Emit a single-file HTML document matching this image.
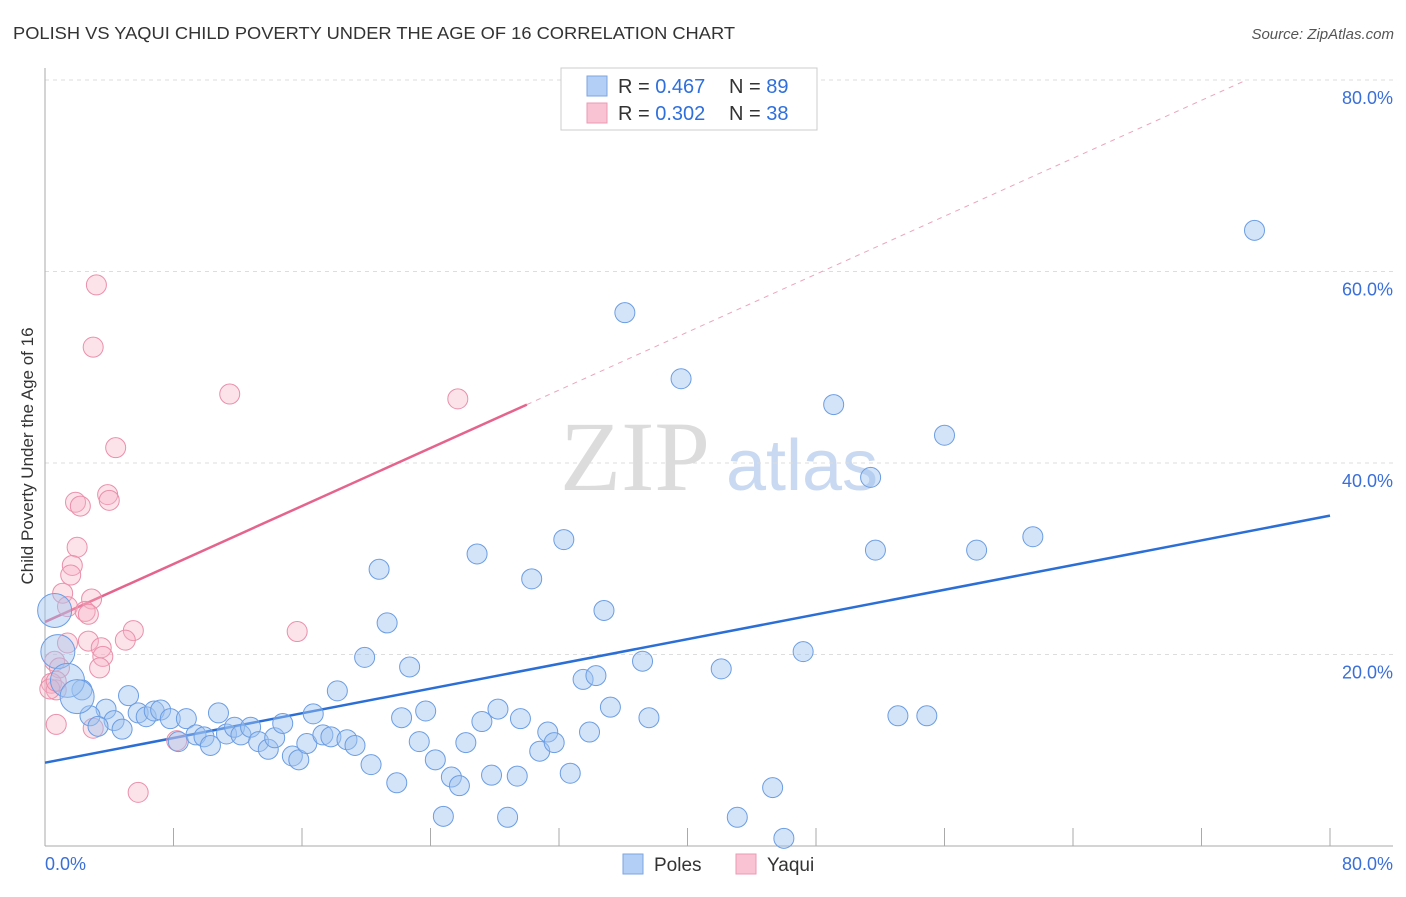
<!DOCTYPE html>
<html><head><meta charset="utf-8"><style>
body{margin:0;background:#fff;font-family:"Liberation Sans",sans-serif;}
</style></head><body>
<svg id="chart" width="1406" height="892" xmlns="http://www.w3.org/2000/svg" font-family="Liberation Sans, sans-serif">
<text x="13" y="39" font-size="17.5" fill="#333" textLength="722" lengthAdjust="spacingAndGlyphs">POLISH VS YAQUI CHILD POVERTY UNDER THE AGE OF 16 CORRELATION CHART</text>
<text x="1394" y="39" font-size="15" fill="#555" text-anchor="end" font-style="italic">Source: ZipAtlas.com</text>
<text transform="translate(33,456) rotate(-90)" font-size="17" fill="#333" text-anchor="middle">Child Poverty Under the Age of 16</text>
<g><text x="635" y="490" font-size="100" fill="#dcdcdc" style="font-family:'Liberation Serif',serif" text-anchor="middle">ZIP</text><text x="802" y="490" font-size="72" fill="#c9d9f1" text-anchor="middle">atlas</text></g>
<g id="grid"></g><g id="axes"></g><g id="lines"></g><g id="pts"></g>
<g>
<rect x="561" y="68" width="256" height="62" fill="#fff" stroke="#ccc"/>
<rect x="587" y="76" width="20" height="20" fill="#b3cff5" stroke="#7ea6e0"/>
<text x="618" y="93" font-size="20" fill="#333">R = <tspan fill="#2f6fdc">0.467</tspan></text>
<text x="729" y="93" font-size="20" fill="#333">N = <tspan fill="#2f6fdc">89</tspan></text>
<rect x="587" y="103" width="20" height="20" fill="#f9c3d3" stroke="#eb99b3"/>
<text x="618" y="120" font-size="20" fill="#333">R = <tspan fill="#2f6fdc">0.302</tspan></text>
<text x="729" y="120" font-size="20" fill="#333">N = <tspan fill="#2f6fdc">38</tspan></text>
</g>
<g>
<rect x="623" y="854" width="20" height="20" fill="#b3cff5" stroke="#7ea6e0"/>
<text x="654" y="871" font-size="19" fill="#333">Poles</text>
<rect x="736" y="854" width="20" height="20" fill="#f9c3d3" stroke="#eb99b3"/>
<text x="767" y="871" font-size="19" fill="#333">Yaqui</text>
</g>
</svg>
<script>
const yTicks=[20,40,60,80];
const xTickVals=[0,8,16,24,32,40,48,56,64,72,80];
const polesX=[75.3,36.1,39.6,49.1,56.0,51.4,32.3,26.9,51.7,58.0,61.5,20.8,30.3,21.3,34.8,19.9,37.2,47.2,22.7,42.1,33.5,34.3,18.2,5.2,2.3,3.8,2.8,4.3,3.3,4.8,5.8,6.3,6.8,7.2,7.8,8.8,10.8,8.3,9.4,9.9,10.3,11.3,11.8,12.2,12.8,13.3,13.9,14.3,14.8,15.4,15.8,16.3,16.7,17.3,17.8,18.8,19.3,20.3,21.9,22.2,23.3,23.7,24.3,24.8,25.3,25.8,26.2,27.2,27.8,28.2,28.8,29.4,29.6,30.8,31.3,31.7,32.7,33.9,35.2,37.6,43.1,45.3,46.0,53.1,54.9];
const polesY=[64.3,55.7,48.8,46.1,42.9,38.5,32.0,30.5,30.9,30.9,32.3,28.9,27.9,23.3,24.6,19.7,19.3,20.3,18.7,18.5,17.4,17.8,16.2,15.7,16.3,14.3,13.6,13.1,12.5,12.2,13.9,13.5,14.1,14.2,13.3,13.3,13.9,10.9,11.6,11.4,10.5,11.7,12.4,11.6,12.4,10.9,10.1,11.3,12.8,9.4,9.0,10.7,13.8,11.6,11.4,11.1,10.5,8.5,6.6,13.4,10.9,14.1,9.0,3.1,7.2,6.3,10.8,13.0,7.4,14.3,3.0,7.3,13.3,9.9,11.9,10.8,7.6,11.9,14.5,13.4,3.0,6.1,0.8,13.6,13.6];
const polesBigX=[0.6,0.8,1.4,2.0];
const polesBigY=[24.6,20.3,17.3,15.6];
const yaquiX=[3.2,3.0,11.5,25.7,4.4,1.9,2.2,3.9,4.0,2.0,1.7,1.6,1.1,2.9,1.4,2.5,2.7,5.5,15.7,5.0,2.7,1.4,3.5,3.6,0.6,0.9,3.4,0.4,0.7,0.3,0.7,0.7,3.0,8.2,5.8];
const yaquiY=[58.6,52.1,47.2,46.7,41.6,35.9,35.5,36.7,36.1,31.2,29.3,28.3,26.4,25.8,25.0,24.5,24.2,22.5,22.4,21.5,21.4,21.2,20.7,19.8,19.3,18.6,18.6,17.0,16.3,16.4,17.2,12.7,12.3,11.0,5.6];
const polesTrend=[8.7,34.5];
const yaquiTrend=[23.4,46.1];
const NS='http://www.w3.org/2000/svg';
const sx=v=>45+v/80*1285, sy=v=>846-v/20*191.5;
function mk(t,a,p){const e=document.createElementNS(NS,t);for(const k in a)e.setAttribute(k,a[k]);document.getElementById(p).appendChild(e);return e;}
yTicks.forEach(t=>{
 const l=mk('line',{x1:45,x2:1393,y1:sy(t),y2:sy(t),stroke:'#ddd','stroke-dasharray':'4,4'},'grid');
 
 
 const tx=mk('text',{x:1393,y:sy(t)+24,'font-size':18,fill:'#3a6fd8','text-anchor':'end'},'grid');tx.textContent=t.toFixed(1)+'%';
 
 
});
mk('line',{x1:45,x2:45,y1:68,y2:846,stroke:'#aaa'},'axes');
mk('line',{x1:45,x2:1393,y1:846,y2:846,stroke:'#aaa'},'axes');
xTickVals.forEach(t=>{const l=mk('line',{x1:sx(t),x2:sx(t),y1:828,y2:846,stroke:'#aaa'},'axes');
 
 });
let a=mk('text',{x:45,y:870,'font-size':18,fill:'#3a6fd8'},'axes');a.textContent='0.0%';


a=mk('text',{x:1393,y:870,'font-size':18,fill:'#3a6fd8','text-anchor':'end'},'axes');a.textContent='80.0%';


function dot(x,y,r,blue){const c=mk('circle',{cx:sx(x),cy:sy(y),r:r,fill:blue?'rgba(160,196,240,0.45)':'rgba(246,176,196,0.35)',stroke:blue?'#6b9de3':'#ea8fab','stroke-width':1},'pts');return c;}
yaquiX.forEach((x,i)=>{const c=dot(x,yaquiY[i],10,false);
 
 });
polesX.forEach((x,i)=>{const c=dot(x,polesY[i],10,true);
 
 });
polesBigX.forEach((x,i)=>{const c=dot(x,polesBigY[i],17,true);
 
 });
let l=mk('line',{x1:sx(0),y1:sy(polesTrend[0]),x2:sx(80),y2:sy(polesTrend[1]),stroke:'#2b6fd6','stroke-width':2.5},'lines');


const slope=(yaquiTrend[1]-yaquiTrend[0])/30;
l=mk('line',{x1:sx(0),y1:sy(yaquiTrend[0]),x2:sx(30),y2:sy(yaquiTrend[1]),stroke:'#e5648d','stroke-width':2.5},'lines');


const xe=(80-yaquiTrend[0])/slope;
l=mk('line',{x1:sx(30),y1:sy(yaquiTrend[1]),x2:sx(xe),y2:sy(80),stroke:'#eba5bb','stroke-width':1,'stroke-dasharray':'5,5'},'lines');


</script>
</body></html>
